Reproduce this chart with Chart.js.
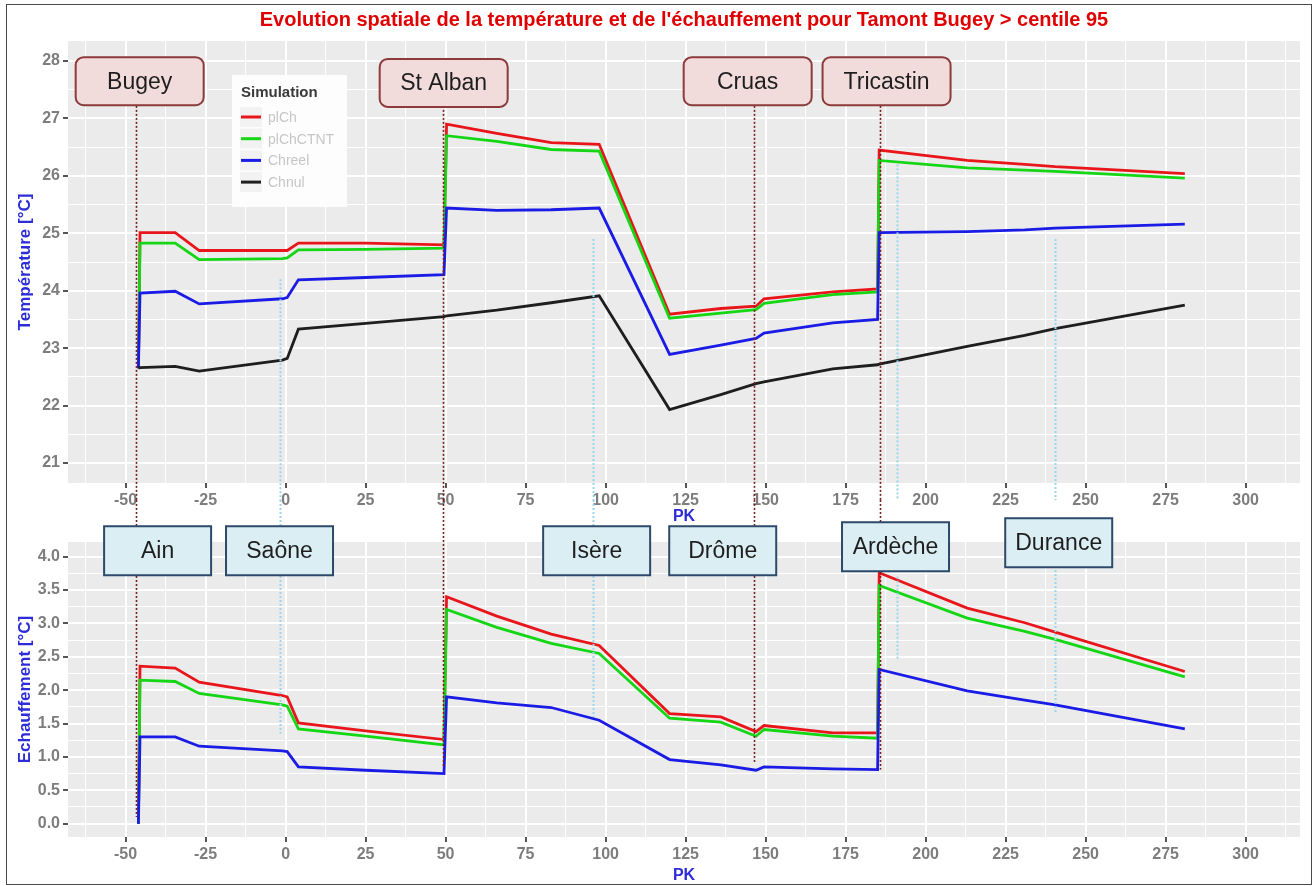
<!DOCTYPE html>
<html>
<head>
<meta charset="utf-8">
<script src="https://cdn.jsdelivr.net/npm/chart.js@4.4.1/dist/chart.umd.min.js"></script>
<style>
  html, body { margin: 0; padding: 0; background: #fff; }
  #frame { position: relative; width: 1316px; height: 886px; overflow: hidden; background: #fff; }
  #edge { position: absolute; left: 6px; top: 4px; width: 1306px; height: 881px; border: 1.5px solid #4a4a4a; box-sizing: border-box; }
  #topChart { position: absolute; left: 0; top: 0; }
  #botChart { position: absolute; left: 0; top: 500px; }
</style>
</head>
<body>
<div id="frame">
  <div id="edge"></div>
  <canvas id="topChart" width="1316" height="530"></canvas>
  <canvas id="botChart" width="1316" height="386"></canvas>
</div>
<script>
const pk = [-46, -45.5, -34.5, -27, -1, 0.5, 4, 25, 49.5, 50.3, 66, 83, 98, 120, 136, 147, 149.5, 171, 185, 185.5, 213, 231, 240.5, 281];

// temperature [°C]
const tempPlCh     = [22.65, 25.01, 25.01, 24.70, 24.70, 24.70, 24.83, 24.83, 24.80, 26.90, 26.74, 26.58, 26.55, 23.59, 23.69, 23.73, 23.86, 23.98, 24.03, 26.45, 26.27, 26.20, 26.16, 26.04];
const tempPlChCTNT = [22.65, 24.83, 24.83, 24.54, 24.56, 24.57, 24.71, 24.72, 24.74, 26.70, 26.60, 26.46, 26.43, 23.52, 23.61, 23.67, 23.78, 23.93, 23.98, 26.27, 26.14, 26.10, 26.08, 25.96];
const tempChreel   = [22.65, 23.96, 23.99, 23.77, 23.86, 23.88, 24.19, 24.23, 24.28, 25.44, 25.40, 25.41, 25.44, 22.89, 23.05, 23.17, 23.26, 23.44, 23.50, 25.01, 25.03, 25.06, 25.09, 25.16];
const tempChnul    = [22.65, 22.66, 22.68, 22.60, 22.79, 22.82, 23.33, 23.43, 23.55, 23.56, 23.66, 23.79, 23.91, 21.93, 22.19, 22.38, 22.41, 22.64, 22.71, 22.72, 23.03, 23.22, 23.34, 23.75];

// echauffement [°C]
const echPlCh      = [0, 2.36, 2.33, 2.12, 1.92, 1.90, 1.51, 1.39, 1.26, 3.40, 3.11, 2.84, 2.67, 1.65, 1.60, 1.38, 1.47, 1.36, 1.36, 3.76, 3.23, 3.01, 2.87, 2.28];
const echPlChCTNT  = [0, 2.15, 2.13, 1.95, 1.78, 1.76, 1.42, 1.31, 1.18, 3.21, 2.94, 2.70, 2.55, 1.58, 1.52, 1.31, 1.41, 1.31, 1.28, 3.57, 3.08, 2.88, 2.76, 2.20];
const echChreel    = [0, 1.30, 1.30, 1.16, 1.09, 1.08, 0.85, 0.80, 0.75, 1.90, 1.81, 1.74, 1.55, 0.96, 0.88, 0.80, 0.85, 0.82, 0.81, 2.31, 1.99, 1.85, 1.78, 1.42];

const seriesNames  = ['plCh', 'plChCTNT', 'Chreel', 'Chnul'];
const seriesColors = ['#e8161b', '#14d614', '#1b1be6', '#1e1e1e'];

// power plants (pink labels) and tributaries (blue labels)
const plantNames     = ['Bugey', 'St Alban', 'Cruas', 'Tricastin'];
const plantLinePk    = [-46.9, 49.2, 146.3, 185.7];
const plantLabelPk   = [-45.6, 49.4, 144.4, 187.8];
const plantLabelTemp = [27.65, 27.62, 27.65, 27.65];
const plantLineEndEch = [0.1, 0.84, 0.91, 0.81];

const tribNames      = ['Ain', 'Saône', 'Isère', 'Drôme', 'Ardèche', 'Durance'];
const tribLabelPk    = [-40, -1.9, 97.2, 136.6, 190.6, 241.6];
const tribLabelEch   = [4.09, 4.09, 4.09, 4.09, 4.15, 4.21];
const tribLinePk     = [-1.7, 96, 191, 240.5];
const tribLineTempTop = [24.2, 24.9, 26.2, 24.9];
const tribLineEchTop  = [4.85, 4.85, 3.7, 3.8];
const tribLineEchEnd  = [1.35, 1.6, 2.45, 1.65];

const FONT = '"Liberation Sans", Arial, sans-serif';
const AXIS_BLUE = '#2c2cd8';
const TICK_GREY = '#7d7d7d';
const PLANT_LINE = '#7a1c1c';
const TRIB_LINE = '#9ed4ea';

const toPoints = vals => pk.map((x, i) => ({x: x, y: vals[i]}));

const panelBg = {
  id: 'panelBg',
  beforeDraw(chart) {
    const a = chart.chartArea, ctx = chart.ctx;
    ctx.save();
    ctx.fillStyle = '#ebebeb';
    ctx.fillRect(a.left, a.top, a.right - a.left, a.bottom - a.top);
    ctx.restore();
  }
};

function labelBox(ctx, cx, cy, w, h, text, fill, stroke, radius) {
  ctx.save();
  ctx.beginPath();
  ctx.roundRect(cx - w / 2, cy - h / 2, w, h, radius);
  ctx.fillStyle = fill;
  ctx.fill();
  ctx.lineWidth = 2;
  ctx.strokeStyle = stroke;
  ctx.stroke();
  ctx.fillStyle = '#1e1e1e';
  ctx.font = '23px ' + FONT;
  ctx.textAlign = 'center';
  ctx.textBaseline = 'middle';
  ctx.fillText(text, cx, cy + 1);
  ctx.restore();
}

const riverMarks = {
  id: 'riverMarks',
  afterDatasetsDraw(chart, args, opts) {
    const ctx = chart.ctx, xs = chart.scales.x, ys = chart.scales.y;
    (opts.lines || []).forEach(l => {
      const px = Math.round(xs.getPixelForValue(l.x)) + 0.5;
      ctx.save();
      ctx.strokeStyle = l.color;
      ctx.lineWidth = l.width;
      ctx.setLineDash(l.dash);
      ctx.beginPath();
      ctx.moveTo(px, ys.getPixelForValue(l.from));
      ctx.lineTo(px, ys.getPixelForValue(l.to));
      ctx.stroke();
      ctx.restore();
    });
    (opts.boxes || []).forEach(b => {
      labelBox(ctx, xs.getPixelForValue(b.x), ys.getPixelForValue(b.y), b.w, b.h, b.text, b.fill, b.stroke, b.r);
    });
  }
};

// legend drawn inside the top panel, ggplot style
const insideLegend = {
  id: 'insideLegend',
  afterDatasetsDraw(chart) {
    const ctx = chart.ctx, a = chart.chartArea;
    const left = a.left + 164, top = a.top + 34;
    ctx.save();
    ctx.fillStyle = '#fdfdfd';
    ctx.fillRect(left, top, 115, 132);
    ctx.fillStyle = '#3a3a3a';
    ctx.font = 'bold 15px ' + FONT;
    ctx.textBaseline = 'middle';
    ctx.fillText('Simulation', left + 9, top + 18);
    chart.data.datasets.forEach((ds, i) => {
      const cy = top + 42 + i * 21.7;
      ctx.fillStyle = '#f2f2f2';
      ctx.fillRect(left + 8, cy - 10, 22, 20);
      ctx.strokeStyle = ds.borderColor;
      ctx.lineWidth = 3;
      ctx.beginPath();
      ctx.moveTo(left + 9, cy);
      ctx.lineTo(left + 29, cy);
      ctx.stroke();
      ctx.fillStyle = '#c6c6c6';
      ctx.font = '14px ' + FONT;
      ctx.fillText(ds.label, left + 36, cy + 1);
    });
    ctx.restore();
  }
};

function gridOpts(isMajor) {
  return {
    color: '#ffffff',
    lineWidth: c => isMajor(c.tick.value) ? 2 : 1,
    tickColor: c => isMajor(c.tick.value) ? '#555555' : 'rgba(0,0,0,0)',
    tickLength: 5
  };
}

const majorX = v => Math.abs(v % 25) < 1e-6;

function xAxis(height, titlePadBottom) {
  return {
    type: 'linear', min: -68, max: 317,
    afterFit: s => { s.height = height; },
    border: {display: false},
    grid: gridOpts(majorX),
    ticks: {
      stepSize: 12.5, autoSkip: false, includeBounds: false, maxRotation: 0, padding: 3,
      color: TICK_GREY, font: {family: FONT, size: 16, weight: 'bold'},
      callback: v => majorX(v) ? String(v) : ''
    },
    title: {display: true, text: 'PK', color: AXIS_BLUE, font: {family: FONT, size: 16, weight: 'bold', lineHeight: 1.2}, padding: {top: 0, bottom: titlePadBottom}}
  };
}

function yAxis(min, max, step, isMajor, fmt, title) {
  return {
    min: min, max: max,
    afterFit: s => { s.width = 68; },
    border: {display: false},
    grid: gridOpts(isMajor),
    ticks: {
      stepSize: step, autoSkip: false, includeBounds: false, padding: 3,
      color: TICK_GREY, font: {family: FONT, size: 16, weight: 'bold'},
      callback: v => isMajor(v) ? fmt(v) : ''
    },
    title: {display: true, text: title, color: AXIS_BLUE, font: {family: FONT, size: 17, weight: 'bold', lineHeight: 1.2}, padding: {top: 15, bottom: 0}}
  };
}

function lineSet(name, idx, vals, order) {
  return {
    label: name, data: toPoints(vals), borderColor: seriesColors[idx], backgroundColor: seriesColors[idx],
    borderWidth: 2.8, pointRadius: 0, tension: 0, fill: false, order: order
  };
}

const topLines = [];
plantLinePk.forEach(x => topLines.push({x: x, from: 27.22, to: 20.35, color: PLANT_LINE, width: 1.6, dash: [2, 2]}));
tribLinePk.forEach((x, i) => topLines.push({x: x, from: tribLineTempTop[i], to: 20.35, color: TRIB_LINE, width: 2, dash: [2, 2]}));
const topBoxes = plantNames.map((t, i) => ({x: plantLabelPk[i], y: plantLabelTemp[i], text: t, w: 128, h: 48, r: 8, fill: '#f2dcdb', stroke: '#8c3a3a'}));

const botLines = [];
plantLinePk.forEach((x, i) => botLines.push({x: x, from: 4.85, to: plantLineEndEch[i], color: PLANT_LINE, width: 1.6, dash: [2, 2]}));
tribLinePk.forEach((x, i) => botLines.push({x: x, from: tribLineEchTop[i], to: tribLineEchEnd[i], color: TRIB_LINE, width: 2, dash: [2, 2]}));
const botBoxes = tribNames.map((t, i) => ({x: tribLabelPk[i], y: tribLabelEch[i], text: t, w: 107, h: 49, r: 0, fill: '#dbeef4', stroke: '#2d4a6a'}));

const common = {responsive: false, animation: false, events: []};

new Chart(document.getElementById('topChart').getContext('2d'), {
  type: 'line',
  data: {
    datasets: [
      lineSet(seriesNames[0], 0, tempPlCh, 4),
      lineSet(seriesNames[1], 1, tempPlChCTNT, 3),
      lineSet(seriesNames[2], 2, tempChreel, 2),
      lineSet(seriesNames[3], 3, tempChnul, 1)
    ]
  },
  options: Object.assign({}, common, {
    layout: {padding: {left: 0, right: 16, top: 0, bottom: 0}},
    scales: {
      x: xAxis(47, 4),
      y: yAxis(20.65, 28.35, 0.5, v => Math.abs(v % 1) < 1e-6, v => String(v), 'Température [°C]')
    },
    plugins: {
      legend: {display: false},
      tooltip: {enabled: false},
      title: {
        display: true, fullSize: false,
        text: "Evolution spatiale de la température et de l'échauffement pour Tamont Bugey > centile 95",
        color: '#e00000', font: {family: FONT, size: 20, weight: 'bold', lineHeight: 1.2},
        padding: {top: 8, bottom: 9}
      },
      riverMarks: {lines: topLines, boxes: topBoxes}
    }
  }),
  plugins: [panelBg, riverMarks, insideLegend]
});

new Chart(document.getElementById('botChart').getContext('2d'), {
  type: 'line',
  data: {
    datasets: [
      lineSet(seriesNames[0], 0, echPlCh, 3),
      lineSet(seriesNames[1], 1, echPlChCTNT, 2),
      lineSet(seriesNames[2], 2, echChreel, 1)
    ]
  },
  options: Object.assign({}, common, {
    layout: {padding: {left: 0, right: 16, top: 42, bottom: 0}},
    scales: {
      x: xAxis(49, 1),
      y: yAxis(-0.2, 4.22, 0.25, v => Math.abs(v % 0.5) < 1e-6, v => v.toFixed(1), 'Echauffement [°C]')
    },
    plugins: {
      legend: {display: false},
      tooltip: {enabled: false},
      riverMarks: {lines: botLines, boxes: botBoxes}
    }
  }),
  plugins: [panelBg, riverMarks]
});
</script>
</body>
</html>
